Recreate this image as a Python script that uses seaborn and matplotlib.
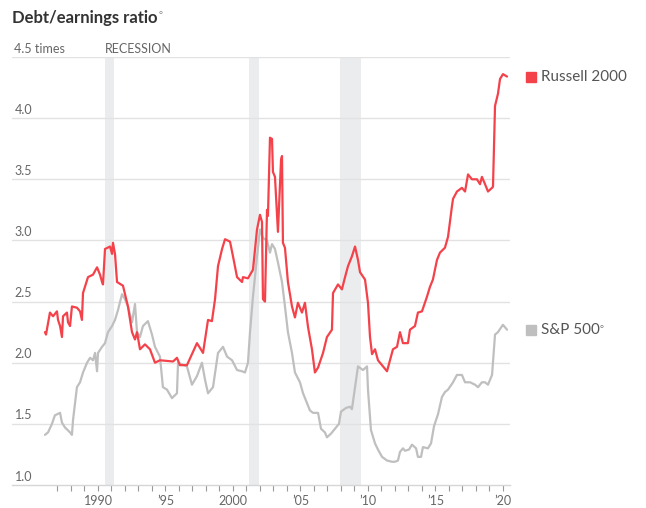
import numpy as np
import pandas as pd
import matplotlib
matplotlib.use("Agg")
import matplotlib.pyplot as plt
import seaborn as sns

# values (year, debt/earnings ratio)
russell_years = [1986.07, 1986.15, 1986.44, 1986.67, 1986.96, 1987.04, 1987.19, 1987.33, 1987.41, 1987.70,
                 1987.78, 1987.93, 1988.07, 1988.44, 1988.67, 1988.81, 1988.89, 1989.26, 1989.63, 1989.93,
                 1990.15, 1990.30, 1990.37, 1990.52, 1990.89, 1991.04, 1991.11, 1991.26, 1991.41, 1991.85,
                 1992.22, 1992.52, 1992.74, 1992.89, 1993.11, 1993.48, 1993.85, 1994.22, 1994.59, 1995.56,
                 1995.85, 1996.07, 1996.59, 1997.04, 1997.33, 1997.56, 1997.78, 1998.15, 1998.44, 1998.67,
                 1998.89, 1999.19, 1999.41, 1999.78, 2000.00, 2000.30, 2000.67, 2000.74, 2001.11, 2001.48,
                 2001.78, 2002.00, 2002.15, 2002.22, 2002.37, 2002.52, 2002.59, 2002.74, 2002.89, 2002.96,
                 2003.11, 2003.33, 2003.56, 2003.63, 2003.70, 2003.85, 2004.07, 2004.37, 2004.59, 2004.81,
                 2005.11, 2005.33, 2005.56, 2005.85, 2006.07, 2006.30, 2006.67, 2006.96, 2007.33, 2007.41,
                 2007.78, 2008.07, 2008.30, 2008.52, 2008.81, 2009.04, 2009.26, 2009.41, 2009.78, 2010.00,
                 2010.15, 2010.30, 2010.52, 2010.74, 2011.11, 2011.41, 2011.63, 2011.85, 2012.15, 2012.37,
                 2012.59, 2012.96, 2013.11, 2013.48, 2013.70, 2014.00, 2014.37, 2014.59, 2014.81, 2015.11,
                 2015.33, 2015.70, 2015.93, 2016.22, 2016.30, 2016.59, 2016.96, 2017.19, 2017.41, 2017.70,
                 2018.07, 2018.30, 2018.44, 2018.67, 2018.89, 2019.19, 2019.26, 2019.41, 2019.63, 2019.78,
                 2020.00, 2020.30]
russell_vals = [2.25, 2.23, 2.41, 2.38, 2.42, 2.35, 2.30, 2.21, 2.38, 2.41,
                2.33, 2.30, 2.46, 2.45, 2.42, 2.35, 2.57, 2.70, 2.72, 2.78,
                2.72, 2.66, 2.64, 2.93, 2.95, 2.89, 2.98, 2.89, 2.66, 2.63,
                2.46, 2.25, 2.19, 2.25, 2.11, 2.15, 2.11, 2.00, 2.02, 2.01,
                2.04, 1.98, 1.98, 2.09, 2.16, 2.12, 2.08, 2.35, 2.34, 2.52,
                2.79, 2.93, 3.01, 2.99, 2.87, 2.70, 2.66, 2.70, 2.69, 2.76,
                3.09, 3.21, 3.15, 2.52, 2.50, 3.25, 3.20, 3.84, 3.83, 3.56,
                3.52, 3.07, 3.66, 3.69, 2.98, 2.94, 2.66, 2.46, 2.37, 2.49,
                2.41, 2.49, 2.29, 2.11, 1.92, 1.96, 2.08, 2.21, 2.27, 2.57,
                2.64, 2.60, 2.70, 2.79, 2.87, 2.95, 2.84, 2.74, 2.68, 2.49,
                2.21, 2.07, 2.11, 2.02, 1.97, 1.93, 2.02, 2.11, 2.13, 2.25,
                2.16, 2.16, 2.27, 2.30, 2.41, 2.42, 2.54, 2.62, 2.68, 2.84,
                2.90, 2.94, 3.03, 3.28, 3.34, 3.40, 3.43, 3.40, 3.54, 3.50,
                3.50, 3.46, 3.52, 3.46, 3.40, 3.43, 3.44, 4.10, 4.20, 4.32,
                4.36, 4.34]

sp_years = [1986.07, 1986.30, 1986.59, 1986.81, 1987.19, 1987.33, 1987.56, 1987.93, 1988.07, 1988.15,
            1988.44, 1988.67, 1988.89, 1989.19, 1989.41, 1989.63, 1989.78, 1989.93, 1990.00, 1990.30,
            1990.52, 1990.74, 1991.04, 1991.26, 1991.48, 1991.78, 1992.00, 1992.22, 1992.52, 1992.74,
            1992.89, 1993.11, 1993.33, 1993.70, 1994.00, 1994.22, 1994.59, 1994.81, 1995.11, 1995.48,
            1995.85, 1995.93, 1996.59, 1996.96, 1997.33, 1997.70, 1997.93, 1998.15, 1998.52, 1998.89,
            1999.26, 1999.56, 1999.93, 2000.30, 2000.67, 2000.89, 2001.11, 2001.26, 2001.48, 2001.78,
            2002.00, 2002.22, 2002.52, 2002.74, 2002.89, 2003.11, 2003.33, 2003.63, 2003.85, 2004.07,
            2004.37, 2004.59, 2004.96, 2005.19, 2005.48, 2005.70, 2005.93, 2006.30, 2006.52, 2006.81,
            2006.96, 2007.26, 2007.56, 2007.85, 2008.00, 2008.37, 2008.67, 2008.81, 2009.04, 2009.26,
            2009.63, 2009.93, 2010.00, 2010.22, 2010.52, 2010.74, 2011.04, 2011.41, 2011.78, 2012.00,
            2012.22, 2012.37, 2012.59, 2012.74, 2013.04, 2013.26, 2013.56, 2013.70, 2013.93, 2014.07,
            2014.44, 2014.67, 2014.89, 2015.19, 2015.48, 2015.70, 2015.93, 2016.30, 2016.59, 2016.96,
            2017.19, 2017.56, 2017.93, 2018.15, 2018.44, 2018.67, 2018.89, 2019.19, 2019.41, 2019.63,
            2019.93, 2020.00, 2020.30]
sp_vals = [1.41, 1.43, 1.50, 1.57, 1.59, 1.51, 1.47, 1.43, 1.41, 1.53,
           1.80, 1.84, 1.92, 2.00, 2.04, 2.02, 2.08, 1.93, 2.08, 2.13,
           2.16, 2.25, 2.30, 2.35, 2.43, 2.56, 2.52, 2.46, 2.33, 2.48,
           2.25, 2.21, 2.30, 2.34, 2.23, 2.13, 2.05, 1.80, 1.78, 1.71,
           1.75, 2.00, 1.97, 1.82, 1.89, 2.00, 1.86, 1.75, 1.80, 2.08,
           2.13, 2.05, 2.02, 1.94, 1.93, 1.92, 2.00, 2.25, 2.54, 2.87,
           3.09, 3.02, 3.00, 2.90, 2.97, 2.93, 2.82, 2.66, 2.46, 2.25,
           2.08, 1.92, 1.84, 1.75, 1.67, 1.61, 1.59, 1.59, 1.46, 1.43,
           1.39, 1.42, 1.46, 1.50, 1.60, 1.63, 1.64, 1.62, 1.80, 1.97,
           1.94, 1.97, 1.78, 1.45, 1.34, 1.29, 1.23, 1.20, 1.19, 1.19,
           1.20, 1.27, 1.30, 1.28, 1.29, 1.33, 1.30, 1.23, 1.23, 1.31,
           1.30, 1.34, 1.48, 1.58, 1.72, 1.76, 1.78, 1.84, 1.90, 1.90,
           1.84, 1.84, 1.82, 1.80, 1.84, 1.84, 1.82, 1.90, 2.23, 2.25,
           2.30, 2.31, 2.27]

recessions = [(1990.5, 1991.2), (2001.2, 2001.9), (2007.95, 2009.45)]
y_ticks = [1.0, 1.5, 2.0, 2.5, 3.0, 3.5, 4.0, 4.5]
y_labels = ["1.0", "1.5", "2.0", "2.5", "3.0", "3.5", "4.0", "4.5 times"]
x_major = [1990, 1995, 2000, 2005, 2010, 2015, 2020]
x_labels = ["1990", "\u201995", "2000", "\u201905", "\u201910", "\u201915", "\u201920"]
series_names = ["Russell 2000", "S&P 500"]

red = "#f4424b"
grey = "#bfbfbf"

df = pd.concat([
    pd.DataFrame({"year": russell_years, "ratio": russell_vals, "index": series_names[0]}),
    pd.DataFrame({"year": sp_years, "ratio": sp_vals, "index": series_names[1]}),
])

sns.set_style("white")
plt.rcParams['font.family'] = ['Lato', 'DejaVu Sans']

fig = plt.figure(figsize=(6.46, 5.08), dpi=100)
ax = fig.add_axes([12 / 646, 1 - 485 / 508, (510 - 12) / 646, (485 - 57) / 508])

for a, b in recessions:
    ax.axvspan(a, b, color="#ebecee", lw=0, zorder=0)
for v in y_ticks[1:]:
    ax.axhline(v, color="#e2e2e2", lw=1, zorder=1)

sns.lineplot(data=df, x="year", y="ratio", hue="index", hue_order=series_names[::-1],
             palette={series_names[0]: red, series_names[1]: grey},
             lw=1.6, legend=False, ax=ax, zorder=3, estimator=None, sort=False)

ax.set_xlim(1983.63, 2020.52)
ax.set_ylim(1.0, 4.5)
for s in ["top", "right", "left"]:
    ax.spines[s].set_visible(False)
ax.spines["bottom"].set_color("#d6d6d6")
ax.spines["bottom"].set_linewidth(1)

ax.set_yticks([])
for v, lab in zip(y_ticks, y_labels):
    ax.text(0.005, v + 0.02, lab, transform=ax.get_yaxis_transform(),
            ha="left", va="bottom", fontsize=9, color="#666666")

ax.set_xticks(x_major)
ax.set_xticklabels(x_labels, fontsize=9, color="#666666")
ax.set_xticks(np.arange(1987, 2021), minor=True)
ax.tick_params(axis="x", which="both", direction="out", length=4, width=0.8,
               color="#999999", pad=3, bottom=True)
ax.set_xlabel("")
ax.set_ylabel("")

ax.text(recessions[0][0], 4.5 + 0.02, "RECESSION", ha="left", va="bottom",
        fontsize=9, color="#666666", clip_on=False)

# end labels next to each line
ends = [(series_names[0], russell_vals[-1], red, ""), (series_names[1], sp_vals[-1], grey, "\u00b0")]
for name, last, col, mark in ends:
    ax.plot([2022.1], [last], marker="s", ms=7, color=col, clip_on=False, ls="none")
    t = ax.text(2022.8, last, name, ha="left", va="center", fontsize=11,
                color="#555555", clip_on=False)
    if mark:
        ax.annotate(mark, xy=(1, 1), xycoords=t, xytext=(0, -2), textcoords="offset points",
                    ha="left", va="top", fontsize=7, color="#777777")

title = fig.text(12 / 646, 1 - 18 / 508, "Debt/earnings ratio", ha="left", va="center",
                 fontsize=12, fontweight="bold", color="#333333")
ax.annotate("\u00b0", xy=(1, 1), xycoords=title, xytext=(0.5, -1), textcoords="offset points",
            ha="left", va="top", fontsize=7, color="#888888", annotation_clip=False)

fig.savefig("out.png", dpi=100)
